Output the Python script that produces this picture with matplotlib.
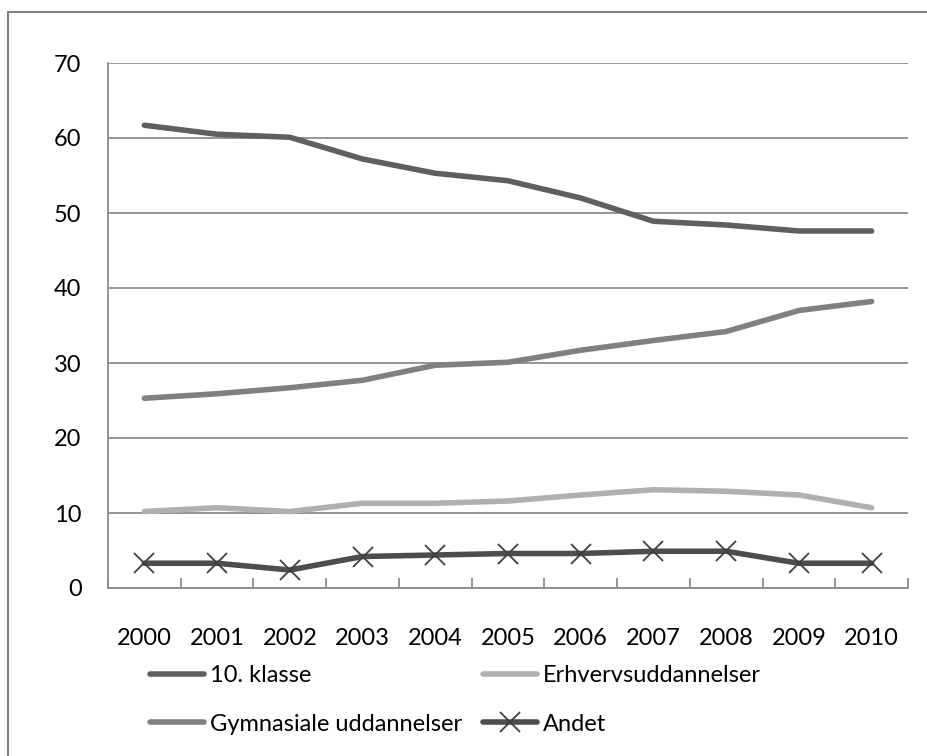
import matplotlib
matplotlib.use('Agg')
from matplotlib import pyplot as plt
from matplotlib.patches import Rectangle

years = ['2000', '2001', '2002', '2003', '2004', '2005',
         '2006', '2007', '2008', '2009', '2010']
klasse10 = [61.7, 60.5, 60.1, 57.2, 55.3, 54.3, 52.0, 48.9, 48.4, 47.6, 47.6]
erhverv = [10.2, 10.7, 10.2, 11.3, 11.3, 11.6, 12.4, 13.1, 12.9, 12.4, 10.7]
gymnasiale = [25.3, 25.9, 26.7, 27.7, 29.7, 30.1, 31.7, 33.0, 34.2, 37.0, 38.2]
andet = [3.3, 3.3, 2.4, 4.2, 4.4, 4.6, 4.6, 4.9, 4.9, 3.3, 3.3]

plt.rcParams['font.family'] = ['Lato', 'DejaVu Sans']
FS = 17
LW = 4.0

fig = plt.figure(figsize=(9.27, 7.56), dpi=100)
ax = fig.add_axes([108 / 927, 1 - 588 / 756, 800 / 927, 525 / 756])

x = range(len(years))
l1, = ax.plot(x, klasse10, color='#5f5f5f', lw=LW, solid_capstyle='round')
l2, = ax.plot(x, erhverv, color='#b0b0b0', lw=LW, solid_capstyle='round')
l3, = ax.plot(x, gymnasiale, color='#808080', lw=LW, solid_capstyle='round')
l4, = ax.plot(x, andet, color='#4d4d4d', lw=LW, marker='x', ms=14, mew=1.3,
              mec='#404040', solid_capstyle='round')

ax.set_xlim(-0.5, len(years) - 0.5)
ax.set_ylim(0, 70)
ax.set_yticks(range(0, 71, 10))
ax.set_xticks(x)
ax.set_xticklabels(years)
ax.set_xticks([i - 0.5 for i in range(len(years) + 1)], minor=True)
ax.tick_params(axis='x', which='major', length=0, pad=29, labelsize=FS)
ax.tick_params(axis='x', which='minor', direction='in', length=7,
               color='#8c8c8c', width=1.3)
ax.tick_params(axis='y', length=0, pad=19, labelsize=FS)
ax.grid(axis='y', color='#8c8c8c', lw=1.3)
ax.set_axisbelow(True)
for s in ['top', 'right']:
    ax.spines[s].set_visible(False)
for s in ['left', 'bottom']:
    ax.spines[s].set_color('#8c8c8c')
    ax.spines[s].set_linewidth(1.3)

leg_kw = dict(loc='center left', frameon=False, fontsize=FS, handlelength=2.3,
              handletextpad=0.25, labelspacing=1.15, borderpad=0, borderaxespad=0)
leg1 = fig.legend([l1, l3], ['10. klasse', 'Gymnasiale uddannelser'],
                  bbox_to_anchor=(150 / 927, 1 - 700 / 756), **leg_kw)
leg2 = fig.legend([l2, l4], ['Erhvervsuddannelser', 'Andet'],
                  bbox_to_anchor=(483 / 927, 1 - 700 / 756), **leg_kw)

fig.patches.append(Rectangle((8 / 927, -0.05), 1.1, 1.05 - 12 / 756,
                             transform=fig.transFigure, fill=False,
                             ec='#7f7f7f', lw=1.5))

fig.savefig('out.png', dpi=100)
